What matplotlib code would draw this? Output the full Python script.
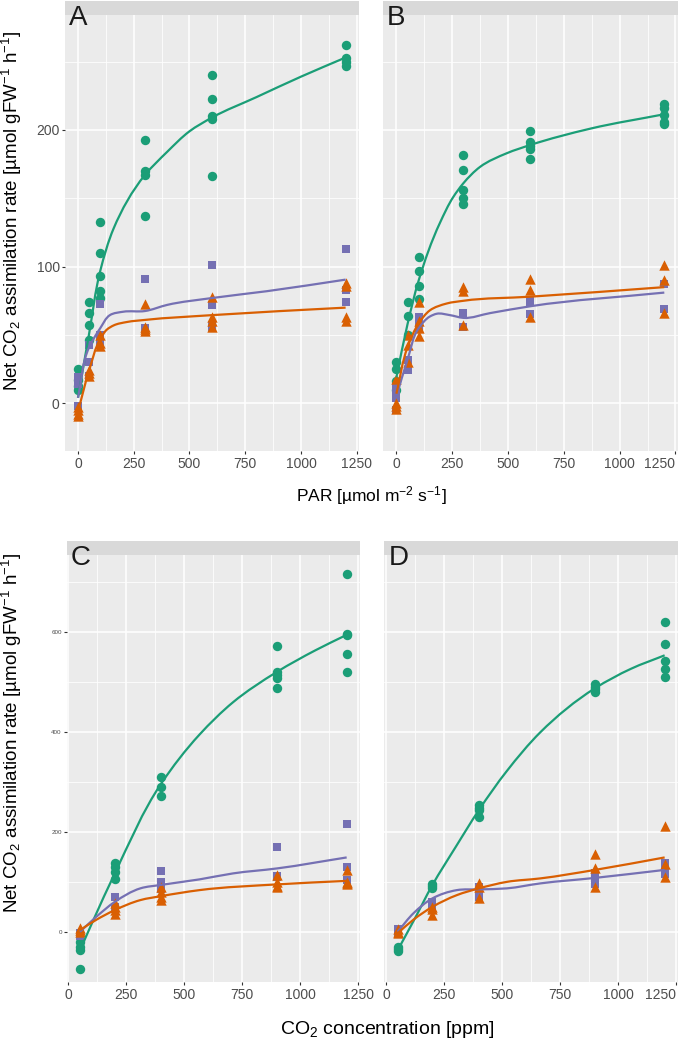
"""Light and CO2 response curves of net assimilation (four panels with fitted curves)."""
import numpy as np
import matplotlib
matplotlib.use("Agg")
import matplotlib.pyplot as plt
from matplotlib.path import Path
from matplotlib.patches import PathPatch

plt.rcParams["font.family"] = ["Liberation Sans", "DejaVu Sans"]
plt.rcParams["mathtext.default"] = "regular"

# x levels
par_levels = [0, 50, 100, 300, 600, 1200]
co2_levels = [50, 200, 400, 900, 1200]

# replicate values per x level
a_green = [[25, 17, 13, 10], [74, 66, 57, 46], [133, 110, 93, 82, 77],
           [193, 170, 167, 137], [240, 223, 210, 208, 166], [262, 253, 250, 247]]
a_purple = [[19, 14, -2], [43, 30, 20], [73, 50, 45], [91, 55, 54],
            [101, 72, 57, 56], [113, 83, 74]]
a_orange = [[-3, -5, -8, -9], [24, 22, 20], [50, 44, 42], [73, 56, 54, 53],
            [78, 63, 60, 56], [88, 86, 63, 60]]

b_green = [[30, 25, 16, 10], [74, 64, 50], [107, 97, 86, 76],
           [182, 171, 156, 150, 146], [199, 191, 188, 186, 179], [219, 216, 211, 206, 204]]
b_purple = [[12, 8, 4, -5], [32, 24], [63, 58, 54], [66, 56], [75, 74, 65], [87, 69]]
b_orange = [[18, 0, -2, -4], [50, 43, 30], [74, 60, 55, 49], [85, 82, 57],
            [91, 83, 63], [101, 90, 66]]

c_green = [[-20, -30, -37, -74], [137, 130, 120, 106], [310, 291, 272],
           [572, 521, 515, 508, 489], [716, 597, 594, 556, 520]]
c_purple = [[-3, -5, -8], [69, 50, 45], [122, 100, 85], [170, 112, 110], [216, 130, 104]]
c_orange = [[7, 3, 0], [57, 50, 43, 35], [90, 80, 70, 64], [114, 100, 92, 90],
            [124, 100, 98, 96]]

d_green = [[-30, -34, -39], [95, 91, 88], [254, 248, 245, 230],
           [496, 490, 486, 481], [620, 576, 543, 526, 511]]
d_purple = [[5, 0, -5], [60, 52], [90, 77, 70], [117, 105, 95], [137, 124, 115]]
d_orange = [[5, 0, -3], [50, 45, 33], [97, 90, 67], [155, 127, 90], [212, 136, 109]]

# fitted (smoothed) curves as (x, y) knots
a_green_fit = ([0, 50, 100, 160, 300, 400, 500, 600, 800, 1000, 1200],
               [4, 51, 97, 128, 167, 184, 199, 209, 224, 239, 253])
a_purple_fit = ([0, 50, 84, 100, 143, 203, 300, 400, 600, 846, 1200],
                [4, 41, 51, 55, 64.5, 67, 67.5, 72, 77, 82, 90.5])
a_orange_fit = ([0, 50, 100, 130, 160, 220, 300, 600, 1200],
                [-6, 24, 47, 54, 57, 59.5, 61, 64.5, 70])

b_green_fit = ([0, 50, 100, 195, 255, 300, 375, 495, 600, 870, 1200],
               [19, 58, 90, 132, 151, 161, 173, 183, 189, 201, 211.5])
b_purple_fit = ([0, 50, 100, 150, 180, 240, 300, 420, 600, 1200],
                [5, 32, 55, 63.5, 65.5, 64.5, 62.5, 66, 71, 81])
b_orange_fit = ([0, 50, 100, 150, 225, 300, 600, 1200],
                [7, 41, 58.5, 68, 73, 75, 78, 85])

c_green_fit = ([50, 107, 200, 400, 565, 710, 900, 1065, 1200],
               [-37, 23, 117, 297, 395, 460, 521, 564, 595])
c_purple_fit = ([50, 120, 200, 310, 400, 565, 710, 900, 1200],
                [0, 30, 60, 87, 94, 105, 117, 127, 149])
c_orange_fit = ([50, 120, 200, 310, 400, 565, 900, 1200],
                [3.5, 24, 43.5, 63.5, 71.5, 83.5, 95, 102])

d_green_fit = ([50, 120, 200, 300, 400, 520, 665, 900, 1055, 1200],
               [-37, 23, 94, 170, 244, 322, 400, 488, 527, 554])
d_purple_fit = ([50, 120, 200, 305, 400, 520, 665, 900, 1200],
                [0, 38, 67, 83.5, 85, 87, 97, 108, 124])
d_orange_fit = ([50, 120, 200, 305, 400, 520, 665, 900, 1200],
                [-3, 25, 50, 73.5, 87, 100, 107, 124, 149])

GREEN, PURPLE, ORANGE = "#1B9E77", "#7570B3", "#D95F02"
W, H = 685, 1047


def rect(l, r, t, b):
    return [l / W, 1 - b / H, (r - l) / W, (b - t) / H]


def flatten(levels, groups):
    xs, ys = [], []
    for xv, reps in zip(levels, groups):
        xs += [xv] * len(reps); ys += reps
    return np.array(xs, float), np.array(ys, float)


def smooth_line(ax, fit, color):
    # smooth Bezier path through the knots, tangents set in pixel space
    p = ax.transData.transform(np.column_stack(fit).astype(float))
    n = len(p)
    seg = np.diff(p, axis=0)
    seglen = np.hypot(seg[:, 0], seg[:, 1])
    unit = seg / seglen[:, None]
    tang = np.zeros_like(p)
    tang[0], tang[-1] = unit[0], unit[-1]
    for i in range(1, n - 1):
        # length-weighted blend of neighbouring chords
        v = unit[i - 1] * seglen[i] + unit[i] * seglen[i - 1]
        tang[i] = v / np.hypot(*v)
    verts, codes = [p[0]], [Path.MOVETO]
    for i in range(n - 1):
        d = seglen[i] / 3
        verts += [p[i] + tang[i] * d, p[i + 1] - tang[i + 1] * d, p[i + 1]]
        codes += [Path.CURVE4] * 3
    verts = ax.transData.inverted().transform(np.array(verts))
    ax.add_patch(PathPatch(Path(verts, codes), fc="none", ec=color, lw=1.6,
                           capstyle="butt", joinstyle="round", zorder=3))


def panel(fig, box, levels, series, xlim, ylim, yticks, ytick_size, label, show_y):
    l, r, t, b = box
    ax = fig.add_axes(rect(l, r, t, b))
    ax.set_facecolor("#EBEBEB")
    for s in ax.spines.values():
        s.set_visible(False)
    ax.set_xlim(*xlim); ax.set_ylim(*ylim)
    ax.set_xticks([0, 250, 500, 750, 1000, 1250])
    ax.set_xticks([125, 375, 625, 875, 1125], minor=True)
    ax.set_yticks(yticks)
    step = yticks[1] - yticks[0]
    ax.set_yticks([v + step / 2 for v in yticks if ylim[0] < v + step / 2 < ylim[1]], minor=True)
    ax.grid(which="major", color="white", lw=1.1)
    ax.grid(which="minor", color="white", lw=0.55)
    ax.set_axisbelow(True)
    ax.tick_params(which="major", length=2.5, width=0.8, color="#333333", pad=2)
    ax.tick_params(which="minor", length=0)
    ax.tick_params(axis="x", labelsize=10, labelcolor="#4D4D4D")
    ax.tick_params(axis="y", labelsize=ytick_size, labelcolor="#4D4D4D", pad=1)
    if not show_y:
        ax.set_yticklabels([])
        ax.tick_params(axis="y", length=0)
        ax.get_xticklabels()[-1].set_ha("right")
    markers = {GREEN: ("o", 46), PURPLE: ("s", 38), ORANGE: ("^", 56)}
    for groups, fit, col in series:
        x, y = flatten(levels, groups)
        m, s = markers[col]
        ax.scatter(x, y, marker=m, s=s, color=col, lw=0, zorder=2)
    for groups, fit, col in series:
        smooth_line(ax, fit, col)
    # strip on top
    strip = fig.add_axes(rect(l, r, t - 14, t))
    strip.set_facecolor("#D9D9D9")
    strip.set_xticks([]); strip.set_yticks([])
    for s in strip.spines.values():
        s.set_visible(False)
    fig.text((l + 4) / W, 1 - (t - 10) / H, label, fontsize=20, color="#1A1A1A",
             ha="left", va="top", zorder=5)
    return ax


fig = plt.figure(figsize=(W / 100, H / 100), dpi=100)

top = (15, 451)
bot = (555, 981.7)
panel(fig, (64.6, 359, *top), par_levels,
      [(a_green, a_green_fit, GREEN), (a_purple, a_purple_fit, PURPLE),
       (a_orange, a_orange_fit, ORANGE)],
      (-60, 1260), (-34.9, 284.1), [0, 100, 200], 10, "A", True)
panel(fig, (383, 677.7, *top), par_levels,
      [(b_green, b_green_fit, GREEN), (b_purple, b_purple_fit, PURPLE),
       (b_orange, b_orange_fit, ORANGE)],
      (-60, 1260), (-34.9, 284.1), [0, 100, 200], 10, "B", False)
panel(fig, (66.7, 360, *bot), co2_levels,
      [(c_green, c_green_fit, GREEN), (c_purple, c_purple_fit, PURPLE),
       (c_orange, c_orange_fit, ORANGE)],
      (-7.5, 1257.5), (-100, 755), [0, 200, 400, 600], 4.5, "C", True)
panel(fig, (384.3, 678, *bot), co2_levels,
      [(d_green, d_green_fit, GREEN), (d_purple, d_purple_fit, PURPLE),
       (d_orange, d_orange_fit, ORANGE)],
      (-7.5, 1257.5), (-100, 755), [0, 200, 400, 600], 4.5, "D", False)

ylab = "Net CO$_2$ assimilation rate [µmol gFW$^{-1}$ h$^{-1}$]"
fig.text(12 / W, 1 - 211 / H, ylab, rotation=90, ha="center", va="center", fontsize=13.5)
fig.text(12 / W, 1 - 733 / H, ylab, rotation=90, ha="center", va="center", fontsize=13.5)
fig.text(371 / W, 1 - 496 / H, "PAR [µmol m$^{-2}$ s$^{-1}$]", ha="center", va="center",
         fontsize=12.5)
fig.text(387 / W, 1 - 1030 / H, "CO$_2$ concentration [ppm]", ha="center", va="center",
         fontsize=14)

fig.savefig("out.png", dpi=100)
